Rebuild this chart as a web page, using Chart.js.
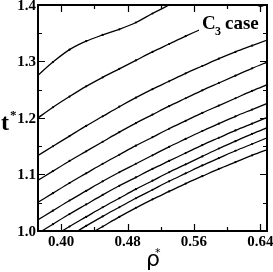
<!DOCTYPE html>
<html><head><meta charset="utf-8">
<script src="https://cdn.jsdelivr.net/npm/chart.js@4"></script>
<style>html,body{margin:0;padding:0;background:#fff}#w{position:relative;width:273px;height:272px}</style>
</head><body><div id="w"><canvas id="c" width="273" height="272"></canvas></div>
<script>
const rho = [0.37,0.39,0.41,0.43,0.45,0.47,0.49,0.51,0.53,0.55,0.57,0.59,0.61,0.63,0.65];
const c1 = [1.273,1.299,1.321,1.336,1.347,1.357,1.369,1.385,1.400,1.415,null,null,null,null,null];
const c2 = [1.198,1.219,1.238,1.256,1.272,1.287,1.302,1.317,1.331,1.345,1.358,1.370,1.381,1.392,1.402];
const c3 = [1.132,1.150,1.168,1.186,1.203,1.220,1.236,1.251,1.265,1.279,1.292,1.305,1.317,1.328,1.339];
const c4 = [1.088,1.106,1.124,1.141,1.158,1.175,1.191,1.206,1.221,1.235,1.249,1.262,1.275,1.288,1.300];
const c5 = [1.049,1.067,1.085,1.102,1.119,1.135,1.151,1.166,1.181,1.195,1.209,1.222,1.235,1.248,1.260];
const c6 = [1.018,1.036,1.054,1.071,1.088,1.104,1.119,1.134,1.149,1.163,1.177,1.190,1.203,1.215,1.227];
const c7 = [0.994,1.012,1.030,1.047,1.064,1.080,1.095,1.110,1.124,1.138,1.152,1.165,1.178,1.190,1.202];
const c8 = [null,0.990,1.008,1.025,1.042,1.058,1.074,1.089,1.104,1.118,1.132,1.146,1.159,1.172,1.184];
const c9 = [null,null,0.991,1.009,1.026,1.042,1.058,1.073,1.088,1.102,1.116,1.129,1.142,1.154,1.166];
const c10 = [null,null,null,0.991,1.008,1.025,1.041,1.056,1.070,1.084,1.097,1.110,1.122,1.134,1.145];
const curves = [c1,c2,c3,c4,c5,c6,c7,c8,c9,c10];
const xTicks = [0.40,0.48,0.56,0.64];
const yTicks = [1.0,1.1,1.2,1.3,1.4];

const datasets = curves.map(c => ({
  data: rho.map((x,i)=>({x:x,y:c[i]})).filter(p=>p.y!==null),
  borderColor:'#000', backgroundColor:'#000', borderWidth:1.3,
  pointRadius:1.1, pointBorderWidth:0, pointHoverRadius:0, cubicInterpolationMode:'monotone'
}));

const frame = {
  id:'frame',
  afterDraw(ch){
    const {ctx, chartArea:a, scales:{x,y}} = ch;
    ctx.save();
    ctx.fillStyle='#fff';
    ctx.fillRect(a.right-68, a.top+2, 66, 32);
    ctx.fillStyle='#000';
    ctx.textBaseline='alphabetic';
    ctx.font='bold 19px "Liberation Serif"';
    ctx.fillText('C', a.right-65, a.top+24);
    ctx.font='bold 12px "Liberation Serif"';
    ctx.fillText('3', a.right-52, a.top+30);
    ctx.font='bold 19px "Liberation Serif"';
    ctx.fillText('case', a.right-42, a.top+24);
    ctx.strokeStyle='#000'; ctx.lineWidth=2;
    ctx.strokeRect(a.left, a.top, a.right-a.left, a.bottom-a.top);
    ctx.lineWidth=1.2;
    const xt=[0.40,0.44,0.48,0.52,0.56,0.60,0.64];
    xt.forEach((v,i)=>{const px=Math.round(x.getPixelForValue(v))+0.5; const L=(i%2===0)?7:4;
      ctx.beginPath();ctx.moveTo(px,a.bottom);ctx.lineTo(px,a.bottom-L);ctx.moveTo(px,a.top);ctx.lineTo(px,a.top+L);ctx.stroke();});
    for(let k=0;k<=8;k++){const v=1.0+k*0.05; const py=Math.round(y.getPixelForValue(v))+0.5; const L=(k%2===0)?7:4;
      ctx.beginPath();ctx.moveTo(a.left,py);ctx.lineTo(a.left+L,py);ctx.moveTo(a.right,py);ctx.lineTo(a.right-L,py);ctx.stroke();}
    ctx.font='bold 15px "Liberation Serif"';
    ctx.textAlign='center';
    xTicks.forEach(v=>{ctx.fillText(v.toFixed(2), x.getPixelForValue(v), a.bottom+15);});
    ctx.textAlign='right'; ctx.textBaseline='middle';
    yTicks.forEach(v=>{ctx.fillText(v.toFixed(1), a.left-2, y.getPixelForValue(v)+1);});
    ctx.textAlign='left'; ctx.textBaseline='alphabetic';
    ctx.font='22px "DejaVu Sans"';
    ctx.fillText('ρ', 146, 266);
    ctx.font='11px "DejaVu Sans"';
    ctx.fillText('*', 155, 256);
    ctx.font='bold 24px "Liberation Serif"';
    ctx.fillText('t', 1, 130);
    ctx.font='bold 13px "Liberation Serif"';
    ctx.fillText('*', 10, 119);
    ctx.restore();
  }
};

new Chart(document.getElementById('c'), {
  type:'line',
  data:{datasets},
  options:{
    responsive:false, animation:false,
    layout:{padding:{left:38,top:5,right:6,bottom:41}},
    plugins:{legend:{display:false},tooltip:{enabled:false}},
    scales:{
      x:{type:'linear',min:0.372,max:0.648,display:false},
      y:{type:'linear',min:1.0,max:1.4,display:false}
    }
  },
  plugins:[frame]
});
</script></body></html>
